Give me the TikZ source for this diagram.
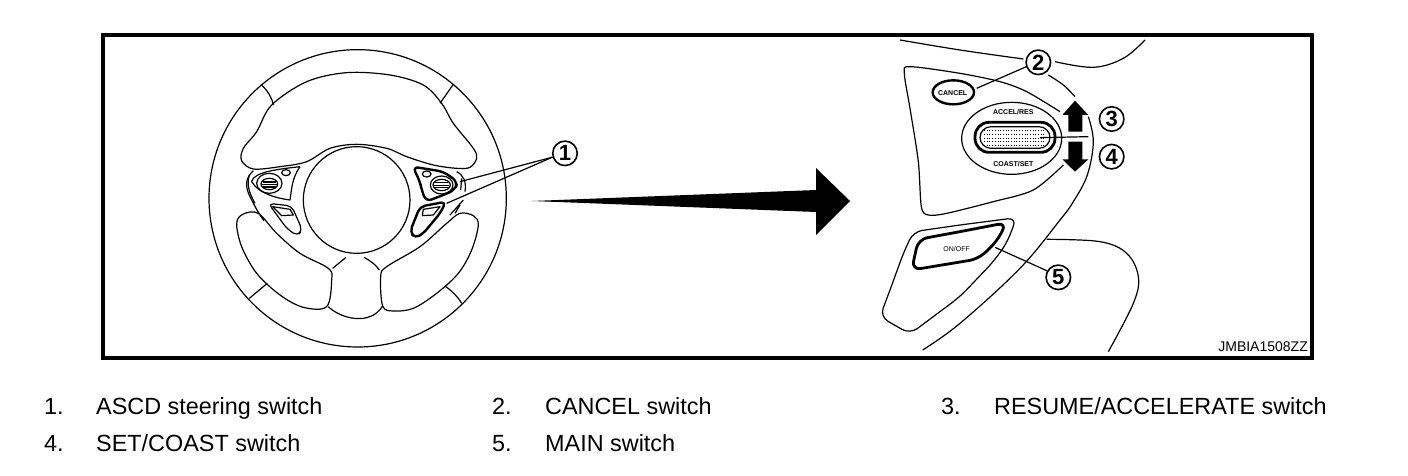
\documentclass[tikz,border=0pt]{standalone}
\usepackage{fontspec}
\setmainfont{Liberation Sans}
\tikzset{
  thinl/.style={draw=black,line width=1.2pt,line join=round},
  thickl/.style={draw=black,line width=2.4pt,line join=round},
  callout/.style={circle,draw=black,line width=1.6pt,fill=white,inner sep=0pt,minimum size=24.5pt,font=\fontsize{22}{22}\selectfont\bfseries},
  tiny label/.style={inner sep=0pt,font=\fontsize{7}{8}\selectfont\bfseries},
  list/.style={anchor=base west,inner sep=0pt,font=\fontsize{23.4}{26}\selectfont},
  z1/.style={shift={(190,50)},scale=1/3},
  z2/.style={shift={(860,35)},scale=1/3},
  z3/.style={shift={(860,190)},scale=1/3}
}
\begin{document}
\begin{tikzpicture}[x=1pt,y=-1pt]
\useasboundingbox (0,0) rectangle (1408,476);
\fill[white] (0,0) rectangle (1408,476);
\draw[line width=4pt] (103,35) rectangle (1312,358);

% ---- steering wheel ----
\begin{scope}[z1]
\draw[thinl] (503,445) circle[radius=446];
\draw[thinl] (500,450) circle[radius=160];
\draw[thinl] plot[smooth cycle,tension=.55] coordinates {(190,357)(155,332)(160,295)(200,245)(245,165)(350,95)(470,68)(600,75)(700,105)(755,160)(790,220)(850,295)(860,325)(840,352)(800,355)(730,345)(650,320)(590,295)(500,283)(420,295)(350,335)(270,350)};
\draw[thinl] plot[smooth cycle,tension=.55] coordinates {(205,490)(160,492)(140,520)(155,590)(200,670)(270,735)(340,772)(410,770)(425,690)(415,655)(330,610)(260,550)};
\draw[thinl] plot[smooth cycle,tension=.55] coordinates {(810,490)(850,497)(865,525)(845,600)(805,670)(740,730)(670,775)(610,783)(578,768)(572,680)(590,650)(690,590)(770,520)};
\draw[thinl] (415,770) .. controls (450,805) and (540,830) .. (578,768);
\draw[thinl] (428,655) -- (468,622) (522,622) .. controls (545,635) and (558,645) .. (568,660);
\draw[thinl] (213,103) .. controls (232,122) and (245,140) .. (250,165);
\draw[thinl] (790,103) -- (750,160);
\draw[thinl] (178,745) -- (232,700);
\draw[thinl] (765,708) .. controls (785,722) and (805,742) .. (815,760);
% left switches
\draw[thinl] (330,350) .. controls (305,385) and (305,420) .. (300,450) .. controls (260,445) and (205,430) .. (185,395) .. controls (190,365) and (270,357) .. (330,350);
\draw[thinl] (238,400) ellipse[x radius=38,y radius=30];
\draw[thinl] (238,402) ellipse[x radius=25,y radius=17];
\draw[thinl] (218,396) -- (258,396) (216,404) -- (260,404) (218,411) -- (258,411);
\draw[thinl] (288,368) ellipse[x radius=13,y radius=9];
\draw[thinl] (190,362) .. controls (165,385) and (165,410) .. (180,440) .. controls (190,460) and (205,490) .. (222,512);
\draw[thinl] (178,375) .. controls (170,400) and (175,425) .. (195,460);
\draw[thinl,rounded corners=5pt] (235,460) -- (305,468) -- (337,540) -- (322,558) -- (290,535) -- cycle;
\draw[thinl] (248,470) -- (300,478) -- (310,495) -- (275,497) -- cycle;
% right switches
\draw[thickl,rounded corners=6pt] (668,350) -- (760,365) -- (803,395) -- (795,420) -- (760,435) -- (708,455) -- (695,420) -- (690,395) -- cycle;
\draw[thinl] (755,405) ellipse[x radius=34,y radius=27];
\draw[thinl] (755,405) ellipse[x radius=26,y radius=17];
\draw[thinl] (735,398) -- (775,398) (733,406) -- (777,406) (735,413) -- (775,413);
\draw[thinl] (710,372) ellipse[x radius=13,y radius=9];
\draw[thickl,rounded corners=5pt] (690,470) -- (768,455) -- (750,490) -- (700,550) -- (675,565) -- (660,545) -- cycle;
\draw[thinl] (700,478) -- (750,470) -- (730,495) -- (697,497) -- cycle;
\draw[thinl] (800,365) .. controls (820,375) and (830,395) .. (825,425);
\draw[thinl] (815,385) -- (812,420);
\draw[thinl] (820,450) -- (780,495) (810,465) -- (795,490);
\node[callout] (c1) at (1125,310) {1};
\coordinate (e1a) at (810,395);
\coordinate (e1b) at (770,460);
\draw[thinl] (c1.197) -- (e1a);
\draw[thinl] (c1.197) -- (e1b);
\end{scope}

% ---- big arrow ----
\coordinate (at) at (532,201);
\coordinate (ah) at (850,201);
\fill[black] (at) -- (816,190) -- (816,168) -- (ah) -- (816,235) -- (816,212) -- cycle;

% ---- switch detail, upper ----
\begin{scope}[z2]
\draw[thinl] plot[smooth,tension=.6] coordinates {(120,15)(300,45)(490,72)};
\draw[thinl] plot[smooth,tension=.6] coordinates {(585,80)(700,97)(790,70)(855,15)};
\draw[thinl] plot[smooth,tension=.6] coordinates {(565,120)(610,150)(645,185)};
\draw[thinl] plot[smooth,tension=.6] coordinates {(685,245)(700,320)(682,420)(640,500)(600,555)(480,700)(300,865)(188,945)};
\draw[thinl] plot[smooth,tension=.5] coordinates {(610,390)(520,465)(400,500)(260,535)(205,540)(184,515)(175,380)(150,220)(133,115)(150,95)(300,115)(420,140)(500,170)(600,230)};
\draw[thinl] (455,310) ellipse[x radius=150,y radius=108];
\draw[thickl] (280,172) ellipse[x radius=62,y radius=36];
\node[tiny label] (tc) at (278,174) {CANCEL};
\node[tiny label] (ta) at (460,232) {ACCEL/RES};
\node[tiny label] (ts) at (460,388) {COAST/SET};
\node[callout] (c2) at (535,82) {2};
\node[callout] (c3) at (755,252) {3};
\node[callout] (c4) at (755,365) {4};
\draw[thinl] (c2.200) -- (350,160);
% switch
\draw[line width=2.8pt,rounded corners=14pt] (345,262) rectangle (585,352);
\draw[thinl,rounded corners=11pt] (360,275) rectangle (570,340);
\foreach \yy in {287,298,309,320,331}
  \draw[line width=.9pt,dash pattern=on 1pt off 1.7pt] (372,\yy) -- (558,\yy);
\coordinate (sw) at (540,308);
\coordinate (swe) at (685,305);
\draw[thinl] (sw) -- (swe);
% arrows
\fill[black] (645,197) -- (685,240) -- (667,240) -- (667,290) -- (625,290) -- (625,240) -- (607,240) -- cycle;
\fill[black] (645,410) -- (685,373) -- (667,373) -- (667,320) -- (625,320) -- (625,373) -- (607,373) -- cycle;
\end{scope}

% ---- switch detail, lower ----
\begin{scope}[z3]
\draw[thinl] plot[smooth,tension=.6] coordinates {(560,148)(720,155)(800,190)(835,260)(820,340)(745,485)};
\draw[thinl,rounded corners=9pt] (160,125) -- (300,105) -- (470,83) -- (440,160) -- (400,215) -- (300,320) -- (150,432) -- (60,380) -- (90,300) -- (130,190) -- cycle;
\draw[line width=2.8pt,line join=round,rounded corners=9pt] (175,148) -- (300,125) -- (440,98) -- (410,155) -- (355,207) -- (155,240) -- cycle;
\node[tiny label,font=\fontsize{7}{8}\selectfont] (to) at (290,177) {ON/OFF};
\node[callout] (c5) at (595,262) {5};
\coordinate (e5) at (405,172);
\draw[thinl] (c5.150) -- (e5);
\end{scope}

% ---- texts ----
\node[anchor=base east,inner sep=0pt,font=\fontsize{14}{16}\selectfont] (code) at (1308,351) {JMBIA1508ZZ};
\node[list] (n1) at (44,414) {1.};
\node[list] (l1) at (96,414) {ASCD steering switch};
\node[list] (n2) at (492,414) {2.};
\node[list] (l2) at (545,414) {CANCEL switch};
\node[list] (n3) at (941,414) {3.};
\node[list] (l3) at (994,414) {RESUME/ACCELERATE switch};
\node[list] (n4) at (44,451) {4.};
\node[list] (l4) at (96,451) {SET/COAST switch};
\node[list] (n5) at (492,451) {5.};
\node[list] (l5) at (545,451) {MAIN switch};
\end{tikzpicture}
\end{document}
